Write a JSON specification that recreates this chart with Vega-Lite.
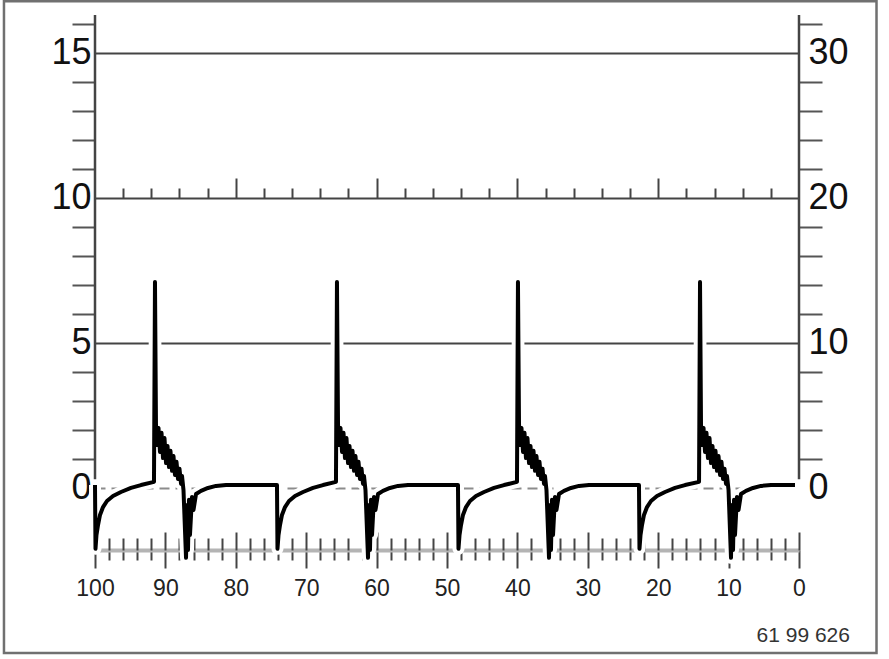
{
  "$schema": "https://vega.github.io/schema/vega-lite/v6.json",
  "width": 704,
  "height": 535,
  "autosize": {"type": "none"},
  "padding": {"left": 95, "top": 15, "right": 90, "bottom": 109},
  "background": "white",
  "config": {"view": {"stroke": null}, "font": "Liberation Sans"},
  "datasets": {
    "wave": [
      {"x": 100, "y": 0.1}, {"x": 99.93, "y": -2.1}, {"x": 99.79, "y": -1.62}, {"x": 99.57, "y": -1.28}, {"x": 99.29, "y": -0.93}, {"x": 98.86, "y": -0.66}, {"x": 98.30, "y": -0.45}, {"x": 97.44, "y": -0.28}, {"x": 96.31, "y": -0.14}, {"x": 94.89, "y": 0.0}, {"x": 93.47, "y": 0.1}, {"x": 91.62, "y": 0.21}, {"x": 91.48, "y": 7.1}, {"x": 91.34, "y": 2.2},
      {"x": 91.19, "y": 1.48}, {"x": 90.98, "y": 2.07}, {"x": 90.77, "y": 1.24}, {"x": 90.55, "y": 1.9}, {"x": 90.34, "y": 1.03}, {"x": 90.13, "y": 1.72}, {"x": 89.91, "y": 0.86}, {"x": 89.70, "y": 1.45}, {"x": 89.49, "y": 0.72}, {"x": 89.28, "y": 1.28}, {"x": 89.06, "y": 0.59}, {"x": 88.85, "y": 1.10}, {"x": 88.64, "y": 0.45}, {"x": 88.42, "y": 0.90}, {"x": 88.21, "y": 0.31}, {"x": 88.00, "y": 0.66}, {"x": 87.78, "y": 0.14}, {"x": 87.64, "y": 0.41}, {"x": 87.43, "y": -0.07},
      {"x": 87.07, "y": -2.41}, {"x": 86.93, "y": -0.59}, {"x": 86.79, "y": -2.14}, {"x": 86.65, "y": -0.41}, {"x": 86.51, "y": -1.62}, {"x": 86.22, "y": -0.31}, {"x": 86.01, "y": -0.76}, {"x": 85.65, "y": -0.21}, {"x": 84.94, "y": -0.10}, {"x": 83.95, "y": 0.0}, {"x": 82.81, "y": 0.07}, {"x": 81.39, "y": 0.1},
      {"x": 74.15, "y": 0.1}, {"x": 74.08, "y": -2.1}, {"x": 73.93, "y": -1.62}, {"x": 73.72, "y": -1.28}, {"x": 73.44, "y": -0.93}, {"x": 73.01, "y": -0.66}, {"x": 72.44, "y": -0.45}, {"x": 71.59, "y": -0.28}, {"x": 70.45, "y": -0.14}, {"x": 69.03, "y": 0.0}, {"x": 67.61, "y": 0.1}, {"x": 65.77, "y": 0.21}, {"x": 65.63, "y": 7.1}, {"x": 65.48, "y": 2.2},
      {"x": 65.34, "y": 1.48}, {"x": 65.13, "y": 2.07}, {"x": 64.91, "y": 1.24}, {"x": 64.70, "y": 1.9}, {"x": 64.49, "y": 1.03}, {"x": 64.28, "y": 1.72}, {"x": 64.06, "y": 0.86}, {"x": 63.85, "y": 1.45}, {"x": 63.64, "y": 0.72}, {"x": 63.42, "y": 1.28}, {"x": 63.21, "y": 0.59}, {"x": 63.00, "y": 1.10}, {"x": 62.78, "y": 0.45}, {"x": 62.57, "y": 0.90}, {"x": 62.36, "y": 0.31}, {"x": 62.14, "y": 0.66}, {"x": 61.93, "y": 0.14}, {"x": 61.79, "y": 0.41}, {"x": 61.58, "y": -0.07},
      {"x": 61.22, "y": -2.41}, {"x": 61.08, "y": -0.59}, {"x": 60.94, "y": -2.14}, {"x": 60.80, "y": -0.41}, {"x": 60.65, "y": -1.62}, {"x": 60.37, "y": -0.31}, {"x": 60.16, "y": -0.76}, {"x": 59.80, "y": -0.21}, {"x": 59.09, "y": -0.10}, {"x": 58.10, "y": 0.0}, {"x": 56.96, "y": 0.07}, {"x": 55.54, "y": 0.1},
      {"x": 48.44, "y": 0.1}, {"x": 48.37, "y": -2.1}, {"x": 48.22, "y": -1.62}, {"x": 48.01, "y": -1.28}, {"x": 47.73, "y": -0.93}, {"x": 47.30, "y": -0.66}, {"x": 46.73, "y": -0.45}, {"x": 45.88, "y": -0.28}, {"x": 44.74, "y": -0.14}, {"x": 43.32, "y": 0.0}, {"x": 41.90, "y": 0.1}, {"x": 40.06, "y": 0.21}, {"x": 39.92, "y": 7.1}, {"x": 39.77, "y": 2.2},
      {"x": 39.63, "y": 1.48}, {"x": 39.42, "y": 2.07}, {"x": 39.20, "y": 1.24}, {"x": 38.99, "y": 1.9}, {"x": 38.78, "y": 1.03}, {"x": 38.57, "y": 1.72}, {"x": 38.35, "y": 0.86}, {"x": 38.14, "y": 1.45}, {"x": 37.93, "y": 0.72}, {"x": 37.71, "y": 1.28}, {"x": 37.50, "y": 0.59}, {"x": 37.29, "y": 1.10}, {"x": 37.07, "y": 0.45}, {"x": 36.86, "y": 0.90}, {"x": 36.65, "y": 0.31}, {"x": 36.43, "y": 0.66}, {"x": 36.22, "y": 0.14}, {"x": 36.08, "y": 0.41}, {"x": 35.87, "y": -0.07},
      {"x": 35.51, "y": -2.41}, {"x": 35.37, "y": -0.59}, {"x": 35.23, "y": -2.14}, {"x": 35.09, "y": -0.41}, {"x": 34.94, "y": -1.62}, {"x": 34.66, "y": -0.31}, {"x": 34.45, "y": -0.76}, {"x": 34.09, "y": -0.21}, {"x": 33.38, "y": -0.10}, {"x": 32.39, "y": 0.0}, {"x": 31.25, "y": 0.07}, {"x": 29.83, "y": 0.1},
      {"x": 22.73, "y": 0.1}, {"x": 22.66, "y": -2.1}, {"x": 22.51, "y": -1.62}, {"x": 22.30, "y": -1.28}, {"x": 22.02, "y": -0.93}, {"x": 21.59, "y": -0.66}, {"x": 21.02, "y": -0.45}, {"x": 20.17, "y": -0.28}, {"x": 19.03, "y": -0.14}, {"x": 17.61, "y": 0.0}, {"x": 16.19, "y": 0.1}, {"x": 14.20, "y": 0.21}, {"x": 14.06, "y": 7.1}, {"x": 13.92, "y": 2.2},
      {"x": 13.78, "y": 1.48}, {"x": 13.56, "y": 2.07}, {"x": 13.35, "y": 1.24}, {"x": 13.14, "y": 1.9}, {"x": 12.93, "y": 1.03}, {"x": 12.71, "y": 1.72}, {"x": 12.50, "y": 0.86}, {"x": 12.29, "y": 1.45}, {"x": 12.07, "y": 0.72}, {"x": 11.86, "y": 1.28}, {"x": 11.65, "y": 0.59}, {"x": 11.43, "y": 1.10}, {"x": 11.22, "y": 0.45}, {"x": 11.01, "y": 0.90}, {"x": 10.79, "y": 0.31}, {"x": 10.58, "y": 0.66}, {"x": 10.37, "y": 0.14}, {"x": 10.23, "y": 0.41}, {"x": 10.01, "y": -0.07},
      {"x": 9.66, "y": -2.41}, {"x": 9.52, "y": -0.59}, {"x": 9.37, "y": -2.14}, {"x": 9.23, "y": -0.41}, {"x": 9.09, "y": -1.62}, {"x": 8.81, "y": -0.31}, {"x": 8.59, "y": -0.76}, {"x": 8.24, "y": -0.21}, {"x": 7.53, "y": -0.10}, {"x": 6.53, "y": 0.0}, {"x": 5.40, "y": 0.07}, {"x": 3.98, "y": 0.1},
      {"x": 0.57, "y": 0.1}
    ]
  },
  "resolve": {"axis": {"x": "independent", "y": "independent"}},
  "layer": [
    {
      "data": {"name": "wave"},
      "mark": {"type": "line", "stroke": "white", "strokeWidth": 12, "strokeJoin": "round"},
      "encoding": {
        "x": {
          "field": "x", "type": "quantitative",
          "scale": {"domain": [100, 0], "nice": false, "zero": false},
          "axis": {
            "orient": "bottom", "title": null,
            "values": [100, 98, 96, 94, 92, 90, 88, 86, 84, 82, 80, 78, 76, 74, 72, 70, 68, 66, 64, 62, 60, 58, 56, 54, 52, 50, 48, 46, 44, 42, 40, 38, 36, 34, 32, 30, 28, 26, 24, 22, 20, 18, 16, 14, 12, 10, 8, 6, 4, 2, 0],
            "domain": true, "domainColor": "#b4b4b4", "domainWidth": 4,
            "grid": false,
            "tickColor": "#444", "tickWidth": 2,
            "tickSize": {"condition": {"test": "datum.value % 10 === 0", "value": 18}, "value": 10},
            "labelExpr": "datum.value % 10 === 0 ? datum.label : ''",
            "labelFont": "Liberation Sans", "labelFontSize": 23, "labelPadding": 9,
            "labelColor": "#222", "labelOverlap": false, "labelFlush": false, "labelBound": false
          }
        },
        "y": {
          "field": "y", "type": "quantitative",
          "scale": {"domain": [-2.14, 16.31], "nice": false, "zero": false},
          "axis": {
            "orient": "left", "title": null,
            "values": [0, 1, 2, 3, 4, 5, 6, 7, 8, 9, 10, 11, 12, 13, 14, 15, 16],
            "domain": false,
            "grid": true, "gridWidth": 2,
            "gridColor": {"condition": {"test": "datum.value === 0", "value": "#8c8c8c"}, "value": "#444"},
            "gridDash": {"condition": {"test": "datum.value === 0", "value": [10, 6]}, "value": []},
            "gridOpacity": {"condition": {"test": "datum.value % 5 === 0", "value": 1}, "value": 0},
            "tickSize": 23, "tickWidth": 2, "tickColor": "#555",
            "tickOpacity": {"condition": {"test": "datum.value % 5 === 0", "value": 0}, "value": 1},
            "labelExpr": "datum.value % 5 === 0 ? datum.label : ''",
            "labelFont": "Liberation Sans", "labelFontSize": 36, "labelPadding": -19,
            "labelColor": "#111", "labelOverlap": false, "labelFlush": false, "labelBound": false
          }
        }
      }
    },
    {
      "data": {"values": [{}]},
      "mark": {"type": "rule", "color": "#444", "strokeWidth": 2.5},
      "encoding": {
        "x": {
          "datum": 100, "type": "quantitative",
          "scale": {"domain": [100, 0], "nice": false, "zero": false},
          "axis": {
            "orient": "top", "offset": -183, "title": null,
            "values": [96, 92, 88, 84, 80, 76, 72, 68, 64, 60, 56, 52, 48, 44, 40, 36, 32, 28, 24, 20, 16, 12, 8, 4],
            "domain": false, "labels": false, "grid": false,
            "tickColor": "#444", "tickWidth": 2,
            "tickSize": {"condition": {"test": "datum.value % 20 === 0", "value": 20}, "value": 10}
          }
        },
        "y": {"datum": 0.3, "type": "quantitative", "scale": {"domain": [-2.14, 16.31], "nice": false, "zero": false}, "axis": null},
        "y2": {"datum": 16.31}
      }
    },
    {
      "data": {"values": [{}]},
      "mark": {"type": "rule", "color": "#444", "strokeWidth": 2.5},
      "encoding": {
        "x": {"datum": 0, "type": "quantitative", "scale": {"domain": [100, 0], "nice": false, "zero": false}, "axis": null},
        "y": {"datum": 0.3, "type": "quantitative", "scale": {"domain": [-2.14, 16.31], "nice": false, "zero": false}, "axis": null},
        "y2": {"datum": 16.31}
      }
    },
    {
      "data": {"name": "wave"},
      "mark": {"type": "line", "stroke": "black", "strokeWidth": 4, "strokeJoin": "round"},
      "encoding": {
        "x": {
          "field": "x", "type": "quantitative",
          "scale": {"domain": [100, 0], "nice": false, "zero": false},
          "axis": {
            "orient": "bottom", "title": null,
            "values": [100, 98, 96, 94, 92, 90, 88, 86, 84, 82, 80, 78, 76, 74, 72, 70, 68, 66, 64, 62, 60, 58, 56, 54, 52, 50, 48, 46, 44, 42, 40, 38, 36, 34, 32, 30, 28, 26, 24, 22, 20, 18, 16, 14, 12, 10, 8, 6, 4, 2, 0],
            "domain": false, "labels": false, "grid": false,
            "tickColor": "#444", "tickWidth": 2,
            "tickSize": {"condition": {"test": "datum.value % 10 === 0", "value": -18}, "value": -12}
          }
        },
        "y": {
          "field": "y", "type": "quantitative",
          "scale": {"domain": [-2.14, 16.31], "nice": false, "zero": false},
          "axis": {
            "orient": "right", "title": null,
            "values": [0, 1, 2, 3, 4, 5, 6, 7, 8, 9, 10, 11, 12, 13, 14, 15, 16],
            "domain": false, "grid": false,
            "tickSize": 23, "tickWidth": 2, "tickColor": "#555",
            "tickOpacity": {"condition": {"test": "datum.value % 5 === 0", "value": 0}, "value": 1},
            "labelExpr": "datum.value % 5 === 0 ? format(datum.value * 2, 'd') : ''",
            "labelFont": "Liberation Sans", "labelFontSize": 36, "labelPadding": -14,
            "labelColor": "#111", "labelOverlap": false, "labelFlush": false, "labelBound": false
          }
        }
      }
    },
    {
      "data": {"values": [{}]},
      "mark": {"type": "rect", "fillOpacity": 0, "stroke": "#707070", "strokeWidth": 2.5},
      "encoding": {
        "x": {"datum": 112.93, "type": "quantitative", "scale": {"domain": [100, 0], "nice": false, "zero": false}, "axis": null},
        "x2": {"datum": -11.01},
        "y": {"datum": 16.78, "type": "quantitative", "scale": {"domain": [-2.14, 16.31], "nice": false, "zero": false}, "axis": null},
        "y2": {"datum": -5.69}
      }
    },
    {
      "data": {"values": [{"note": "61 99 626"}]},
      "mark": {"type": "text", "align": "right", "baseline": "alphabetic", "font": "Liberation Sans", "fontSize": 21, "color": "#333"},
      "encoding": {
        "x": {"datum": -7.24, "type": "quantitative", "scale": {"domain": [100, 0], "nice": false, "zero": false}, "axis": null},
        "y": {"datum": -5.31, "type": "quantitative", "scale": {"domain": [-2.14, 16.31], "nice": false, "zero": false}, "axis": null},
        "text": {"field": "note", "type": "nominal"}
      }
    }
  ]
}
